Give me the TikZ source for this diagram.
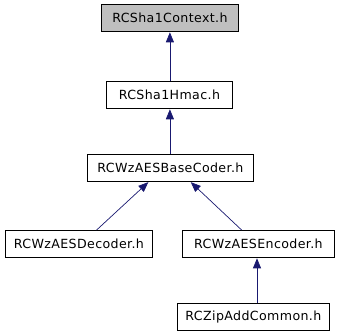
\documentclass[tikz,border=0pt]{standalone}
\usepackage{fontspec}
\setmainfont{DejaVu Sans}[LetterSpace=3]
\usetikzlibrary{arrows.meta,calc}
\definecolor{edgeblue}{HTML}{191970}
\tikzset{
  file/.style={draw=black, line width=0.8pt, fill=white, inner sep=0pt,
    font=\fontsize{12.6}{13}\selectfont, anchor=north west},
  rootfile/.style={file, fill=black!25},
  dep/.style={draw=edgeblue, line width=0.7pt,
    -{Triangle[length=10pt,width=8pt]}, shorten >=0.5pt}
}
\begin{document}
\begin{tikzpicture}[x=1pt,y=-1pt]
  \useasboundingbox (0,0) rectangle (343,336);
  % header boxes, top to bottom
  \node[rootfile, minimum width=137pt, minimum height=27pt] (ctx) at (101,4) {RCSha1Context.h};
  \node[file, minimum width=126pt, minimum height=27pt] (hmac) at (106,81) {RCSha1Hmac.h};
  \node[file, minimum width=166pt, minimum height=27pt] (base) at (87,154) {RCWzAESBaseCoder.h};
  \node[file, minimum width=147pt, minimum height=27pt] (dec) at (5,230) {RCWzAESDecoder.h};
  \node[file, minimum width=152pt, minimum height=27pt] (enc) at (182,230) {RCWzAESEncoder.h};
  \node[file, minimum width=152pt, minimum height=27pt] (zip) at (177,303) {RCZipAddCommon.h};
  % include dependencies, drawn from includer to included file
  \draw[dep] (hmac.north -| ctx.south) -- (ctx.south);
  \draw[dep] (base.north -| ctx.south) -- (hmac.south -| ctx.south);
  \draw[dep] ($(dec.north west)!0.62!(dec.north east)$) -- ($(base.south west)!0.37!(base.south east)$);
  \draw[dep] ($(enc.north west)!0.39!(enc.north east)$) -- ($(base.south west)!0.62!(base.south east)$);
  \draw[dep] (zip.north -| 257,0) -- (enc.south -| 257,0);
\end{tikzpicture}
\end{document}
